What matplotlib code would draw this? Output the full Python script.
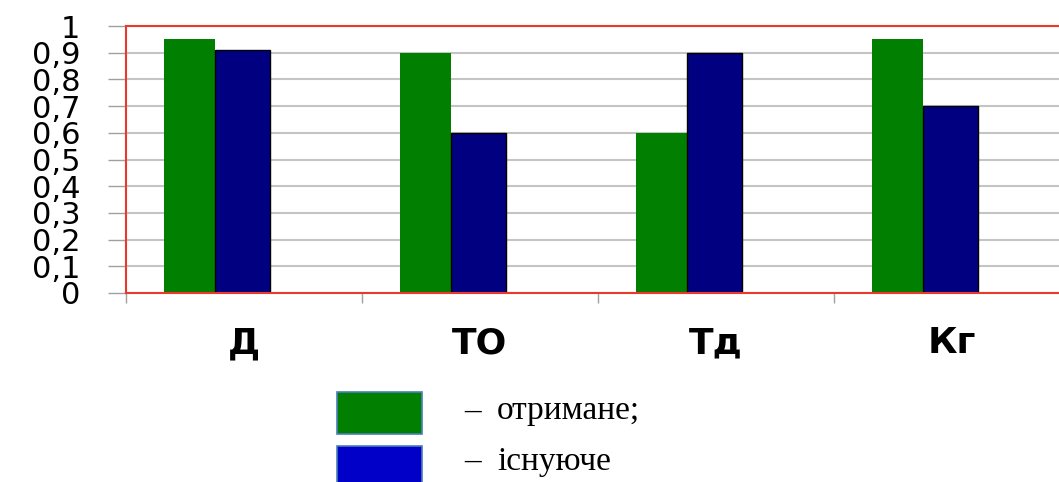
import numpy as np
import matplotlib.pyplot as plt
from matplotlib.patches import Rectangle
from matplotlib.ticker import FixedLocator

categories = ['Д', 'ТО', 'Тд', 'Кг']
otrymane = [0.95, 0.90, 0.60, 0.95]
isnuiuche = [0.91, 0.60, 0.90, 0.70]
y_ticks = [0, 0.1, 0.2, 0.3, 0.4, 0.5, 0.6, 0.7, 0.8, 0.9, 1]
y_labels = ['0', '0,1', '0,2', '0,3', '0,4', '0,5', '0,6', '0,7', '0,8', '0,9', '1']
legend_labels = ['отримане;', 'існуюче']

W, H = 1059, 482
fig = plt.figure(figsize=(W / 100, H / 100), dpi=100)
ax = fig.add_axes([126 / W, 1 - 293 / H, (1070 - 126) / W, 267 / H])

x = np.arange(len(categories))
ax.bar(x - 0.34, otrymane, width=0.217, align='edge', color='#007f00', edgecolor='none', zorder=3)
ax.bar(x - 0.123, isnuiuche, width=0.233, align='edge', color='#000080', edgecolor='black', linewidth=1, zorder=3)

ax.set_xlim(-0.5, 3.5)
ax.set_ylim(0, 1)

ax.set_yticks(y_ticks)
ax.set_yticklabels(y_labels, fontsize=22, family='DejaVu Sans')
ax.tick_params(axis='y', length=13, width=1, color='#a0a0a0', pad=20)
ax.yaxis.grid(True, color='#c4c4c4', linewidth=1.5, zorder=0)

ax.set_xticks(x)
ax.set_xticklabels(categories, fontsize=26, fontweight='bold', family='DejaVu Sans')
ax.tick_params(axis='x', which='major', length=0, pad=24)
ax.xaxis.set_minor_locator(FixedLocator([-0.5, 0.5, 1.5, 2.5]))
ax.tick_params(axis='x', which='minor', length=7, width=1, color='#a0a0a0')

for side in ['left', 'top', 'bottom', 'right']:
    ax.spines[side].set_color('#e8392b')
    ax.spines[side].set_linewidth(1.5)
    ax.spines[side].set_zorder(4)

# legend drawn by hand under the chart
fig.patches.append(Rectangle((337 / W, 1 - 434 / H), 85 / W, 42 / H, transform=fig.transFigure,
                             facecolor='#007f00', edgecolor='#4a7ebb', linewidth=1.2))
fig.patches.append(Rectangle((337 / W, 1 - 490 / H), 85 / W, 44 / H, transform=fig.transFigure,
                             facecolor='#0000c8', edgecolor='#4a7ebb', linewidth=1.2))
for i, lab in enumerate(legend_labels):
    yy = 1 - (411 + 51 * i) / H
    fig.text(464 / W, yy, '–', fontsize=24, family='Liberation Serif', va='center', ha='left')
    fig.text(497 / W, yy, lab, fontsize=24, family='Liberation Serif', va='center', ha='left')

fig.savefig('out.png', dpi=100)
